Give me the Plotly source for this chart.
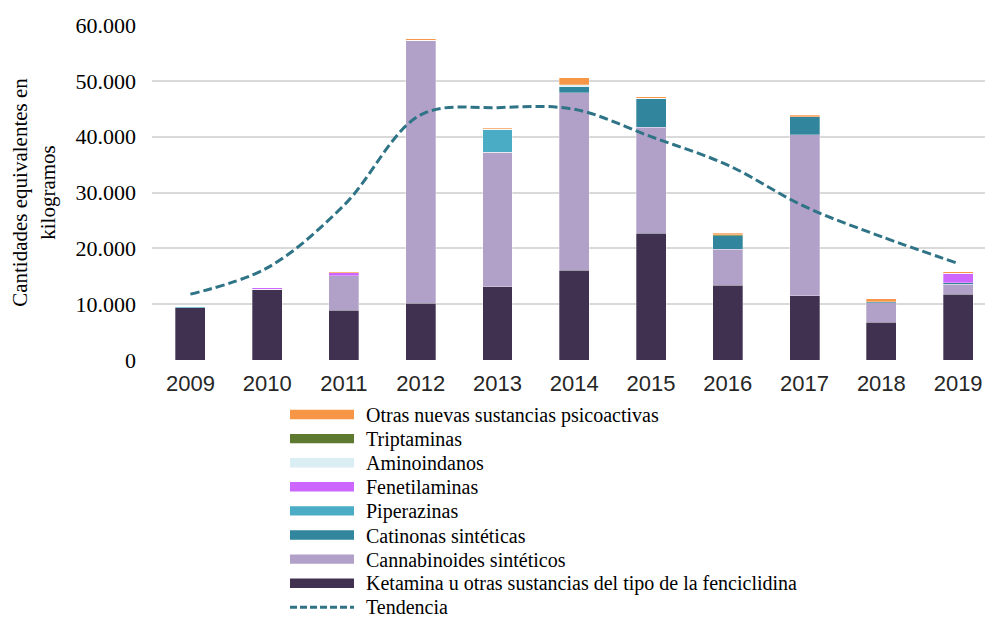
import plotly.graph_objects as go

years = ["2009", "2010", "2011", "2012", "2013", "2014", "2015", "2016", "2017", "2018", "2019"]

ketamina = [9400, 12700, 8950, 10150, 13150, 16100, 22700, 13430, 11520, 6750, 11770]
cannabinoides = [0, 0, 6150, 47150, 24050, 31800, 18950, 6400, 28800, 3500, 1830]
catinonas = [0, 0, 0, 0, 0, 1000, 5200, 2450, 3250, 200, 250]
piperazinas = [200, 0, 0, 0, 4100, 0, 0, 0, 0, 0, 0]
fenetilaminas = [0, 250, 550, 0, 0, 0, 0, 0, 0, 0, 1700]
aminoindanos = [0, 0, 0, 0, 0, 420, 0, 0, 0, 0, 0]
triptaminas = [0, 0, 0, 0, 0, 0, 0, 150, 0, 0, 0]
otras = [0, 0, 180, 200, 200, 1200, 280, 280, 230, 500, 220]
tendencia = [11800, 16500, 27700, 43900, 45200, 44900, 40000, 34900, 27500, 22100, 17300]

series = [
    ("Ketamina u otras sustancias del tipo de la fenciclidina", ketamina, "#403151"),
    ("Cannabinoides sintéticos", cannabinoides, "#B1A0C7"),
    ("Catinonas sintéticas", catinonas, "#31859C"),
    ("Piperazinas", piperazinas, "#4BACC6"),
    ("Fenetilaminas", fenetilaminas, "#CC66FF"),
    ("Aminoindanos", aminoindanos, "#DAEEF3"),
    ("Triptaminas", triptaminas, "#5E7A30"),
    ("Otras nuevas sustancias psicoactivas", otras, "#F79646"),
]
trend_name = "Tendencia"
trend_color = "#2F7486"

W, H = 985, 619
L, R, T, B = 152, 0, 25, 259
plot_w = W - L - R
plot_h = H - T - B


def px_x(px):
    return (px - L) / plot_w


def px_y(py):
    return (H - B - py) / plot_h


fig = go.Figure()
for name, vals, color in series:
    fig.add_trace(go.Bar(
        x=years, y=vals, name=name,
        marker=dict(color=color, line=dict(color="rgba(255,255,255,0.5)", width=0.6)),
        width=0.39,
    ))

fig.add_trace(go.Scatter(
    x=years, y=tendencia, name=trend_name, mode="lines",
    line=dict(color=trend_color, width=3, dash="9px,4px", shape="spline", smoothing=1.0),
))

# Custom legend (wide swatches like the original)
legend_items = [(n, c) for n, _, c in reversed(series)]
row0, row_step = 414.5, 24.1
sw_x0, sw_x1, txt_x = 290, 354, 365
shapes, annotations = [], []
for i, (name, color) in enumerate(legend_items):
    yc = row0 + i * row_step
    shapes.append(dict(
        type="rect", xref="paper", yref="paper",
        x0=px_x(sw_x0), x1=px_x(sw_x1), y0=px_y(yc - 4.7), y1=px_y(yc + 4.7),
        fillcolor=color, line=dict(width=0),
    ))
    annotations.append(dict(
        xref="paper", yref="paper", x=px_x(txt_x), y=px_y(yc + 0.5),
        xanchor="left", yanchor="middle", text=name, showarrow=False,
        borderpad=0,
        font=dict(family="Liberation Serif", size=20, color="#000000"),
    ))
yc = row0 + len(legend_items) * row_step
shapes.append(dict(
    type="line", xref="paper", yref="paper",
    x0=px_x(sw_x0), x1=px_x(sw_x1), y0=px_y(yc), y1=px_y(yc),
    line=dict(color=trend_color, width=3, dash="7px,3px"),
))
annotations.append(dict(
    xref="paper", yref="paper", x=px_x(txt_x), y=px_y(yc - 0.5),
    xanchor="left", yanchor="middle", text=trend_name, showarrow=False,
    borderpad=0,
    font=dict(family="Liberation Serif", size=20, color="#000000"),
))

fig.update_layout(
    width=W, height=H,
    barmode="stack",
    separators=",.",
    plot_bgcolor="white",
    paper_bgcolor="white",
    margin=dict(l=L, r=R, t=T, b=B, autoexpand=False),
    font=dict(family="Liberation Serif", size=20, color="#000000"),
    showlegend=False,
    shapes=shapes,
    annotations=annotations,
    xaxis=dict(
        type="category",
        range=[-0.5, 10.35],
        showgrid=False,
        showline=False,
        ticks="",
        automargin=False,
        tickfont=dict(family="Liberation Sans", size=22, color="#262626"),
        ticklabelstandoff=8,
    ),
    yaxis=dict(
        range=[0, 60000],
        dtick=10000,
        tickformat=",d",
        showgrid=True,
        gridcolor="#D9D9D9",
        gridwidth=2,
        zeroline=False,
        showline=False,
        ticks="",
        automargin=False,
        tickfont=dict(family="Liberation Serif", size=22, color="#000000"),
        ticklabelstandoff=15,
        title=dict(
            text="Cantidades equivalentes en<br>kilogramos",
            font=dict(family="Liberation Serif", size=21, color="#000000"),
            standoff=14,
        ),
    ),
)

fig.write_html(
    "out.html",
    config={"displayModeBar": False},
    post_script="document.body.style.margin='0px';document.body.style.overflow='hidden';",
)
